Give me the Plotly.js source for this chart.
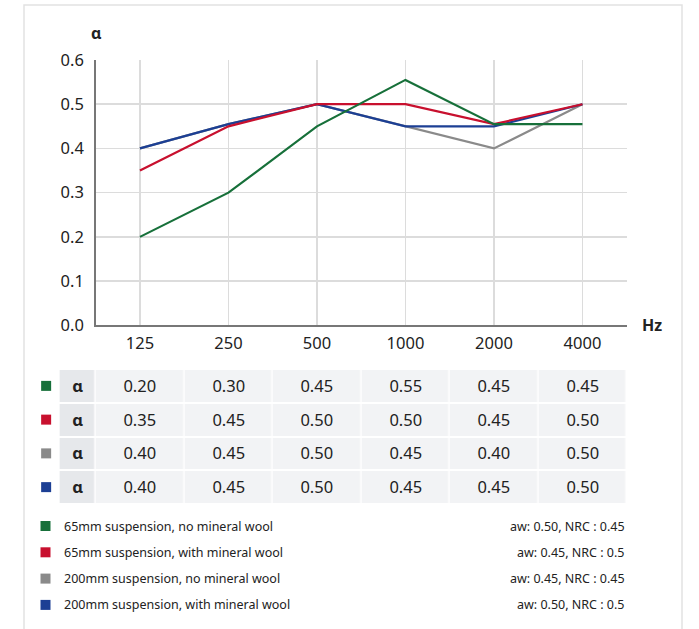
<!DOCTYPE html>
<html>
<head>
<meta charset="utf-8">
<script src="https://cdn.plot.ly/plotly-3.0.1.min.js"></script>
<style>html,body{margin:0;padding:0;background:#fff;}#chart{width:699px;height:629px;}</style>
</head>
<body>
<div id="chart"></div>
<script>
// ---- data ----
const freqs = ["125", "250", "500", "1000", "2000", "4000"];
const seriesNames = [
  "65mm suspension, no mineral wool",
  "65mm suspension, with mineral wool",
  "200mm suspension, no mineral wool",
  "200mm suspension, with mineral wool"
];
const green = [0.20, 0.30, 0.45, 0.555, 0.455, 0.455];
const red   = [0.35, 0.45, 0.50, 0.50, 0.455, 0.50];
const gray  = [0.40, 0.455, 0.50, 0.45, 0.40, 0.50];
const blue  = [0.40, 0.455, 0.50, 0.45, 0.45, 0.50];
const tableGreen = ["0.20", "0.30", "0.45", "0.55", "0.45", "0.45"];
const tableRed   = ["0.35", "0.45", "0.50", "0.50", "0.45", "0.50"];
const tableGray  = ["0.40", "0.45", "0.50", "0.45", "0.40", "0.50"];
const tableBlue  = ["0.40", "0.45", "0.50", "0.45", "0.45", "0.50"];
const ratings = [
  "aw: 0.50, NRC : 0.45",
  "aw: 0.45, NRC : 0.5",
  "aw: 0.45, NRC : 0.45",
  "aw: 0.50, NRC : 0.5"
];
const colors = ["#17703a", "#c8102e", "#8a8a8a", "#1c3f94"];

// ---- layout helpers ----
const W = 699, H = 629;
const px = v => v / W;
const py = v => 1 - v / H;
const FONT = "Noto Sans, sans-serif";
const TXT = "#222222";

const lineData = [green, red, gray, blue];
const tableData = [tableGreen, tableRed, tableGray, tableBlue];
const drawOrder = [2, 3, 1, 0];

const traces = [];
drawOrder.forEach(i => {
  traces.push({
    type: "scatter", mode: "lines", x: freqs, y: lineData[i],
    name: seriesNames[i], line: {color: colors[i], width: 2.2},
    xaxis: "x", yaxis: "y", hoverinfo: "skip", showlegend: false
  });
});

// table as heatmap: first column is the alpha label column
const nCols = freqs.length;
const alphaW = 0.407;
const xEdges = [-0.5 - alphaW];
for (let i = 0; i <= nCols; i++) xEdges.push(i - 0.5);
const z = [], txt = [];
tableData.forEach(row => {
  z.push([1].concat(row.map(() => 0)));
  txt.push(["<b>α</b>"].concat(row));
});
traces.push({
  type: "heatmap", x: xEdges, y: [0, 1, 2, 3], z: z, text: txt,
  texttemplate: "%{text}", textfont: {family: FONT, size: 16.5, color: TXT},
  colorscale: [[0, "#f2f3f5"], [1, "#e6e8eb"]], showscale: false,
  xgap: 1.5, ygap: 2, xaxis: "x2", yaxis: "y2", hoverinfo: "skip"
});
const SWATCH_X = -1.06;
traces.push({
  type: "scatter", mode: "markers", x: colors.map(() => SWATCH_X), y: [0, 1, 2, 3],
  marker: {symbol: "square", size: 10, color: colors},
  xaxis: "x2", yaxis: "y2", hoverinfo: "skip", showlegend: false, cliponaxis: false
});

// plot geometry
const plotL = 95.7, plotR = 626.7;
const unit = (plotR - plotL) / nCols;
const x2Min = -1.2;
const x2L = plotL + (x2Min + 0.5) * unit;

const shapes = [{
  type: "rect", xref: "paper", yref: "paper",
  x0: px(24), x1: px(682), y0: -0.05, y1: py(5),
  line: {color: "#e2e2e2", width: 1.5}, fillcolor: "rgba(0,0,0,0)", layer: "below"
}];
const annotations = [
  {text: "<b>α</b>", xref: "paper", yref: "paper", x: px(96), y: py(33),
   xanchor: "center", yanchor: "middle",
   showarrow: false, font: {family: FONT, size: 16, color: TXT}},
  {text: "<b>Hz</b>", xref: "paper", yref: "paper", x: px(640), y: py(325),
   xanchor: "left", yanchor: "middle",
   showarrow: false, font: {family: FONT, size: 16, color: TXT}}
];
seriesNames.forEach((name, i) => {
  const yc = 526 + i * 26.3;
  shapes.push({
    type: "rect", xref: "paper", yref: "paper",
    x0: px(40.5), x1: px(50.5), y0: py(yc + 5), y1: py(yc - 5),
    fillcolor: colors[i], line: {width: 0}
  });
  annotations.push({
    text: name, xref: "paper", yref: "paper", x: px(62), y: py(yc),
    xanchor: "left", yanchor: "middle", showarrow: false,
    font: {family: FONT, size: 12.5, color: TXT}
  });
  annotations.push({
    text: ratings[i], xref: "paper", yref: "paper", x: px(627), y: py(yc),
    xanchor: "right", yanchor: "middle", showarrow: false,
    font: {family: FONT, size: 12.5, color: TXT}
  });
});

const layout = {
  width: W, height: H,
  margin: {l: 0, r: 0, t: 0, b: 0},
  paper_bgcolor: "#ffffff", plot_bgcolor: "#ffffff",
  showlegend: false,
  font: {family: FONT, color: TXT},
  xaxis: {
    domain: [px(plotL), px(plotR)], type: "category", categoryorder: "array",
    categoryarray: freqs, range: [-0.5, nCols - 0.5],
    showgrid: true, gridcolor: "#dcdcdc", gridwidth: 1.5,
    showline: true, linecolor: "#777777", linewidth: 1.5,
    ticks: "", ticklabelstandoff: 2, tickfont: {family: FONT, size: 16.5, color: TXT},
    fixedrange: true, zeroline: false
  },
  yaxis: {
    domain: [py(325.3), py(60)], range: [0, 0.6], dtick: 0.1, tickformat: ".1f",
    showgrid: true, gridcolor: "#dcdcdc", gridwidth: 1.5,
    showline: true, linecolor: "#777777", linewidth: 1.5,
    ticks: "", ticklabelstandoff: 7, tickfont: {family: FONT, size: 16.5, color: TXT},
    fixedrange: true, zeroline: false
  },
  xaxis2: {
    domain: [px(x2L), px(plotR)], range: [x2Min, nCols - 0.5], anchor: "y2",
    visible: false, fixedrange: true
  },
  yaxis2: {
    domain: [py(504), py(369)], range: [3.5, -0.5], anchor: "x2",
    visible: false, fixedrange: true
  },
  shapes: shapes,
  annotations: annotations
};

Plotly.newPlot("chart", traces, layout, {staticPlot: true, displayModeBar: false});
</script>
</body>
</html>
